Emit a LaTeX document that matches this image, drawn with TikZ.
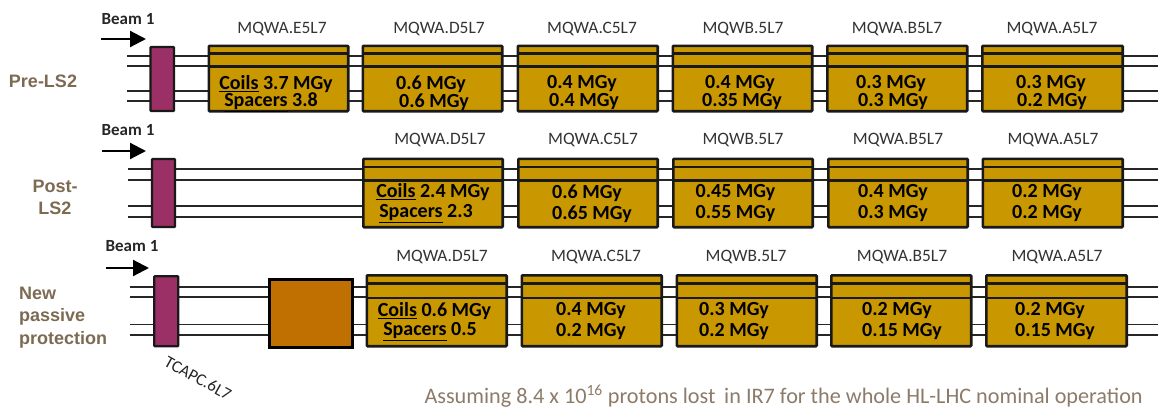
\documentclass[tikz,border=0pt]{standalone}
\usepackage{fontspec}
\setmainfont{Carlito}
\newfontfamily\arialfont{Liberation Sans}
\usetikzlibrary{calc,arrows.meta}
\definecolor{magold}{HTML}{C99700}
\definecolor{tcapc}{HTML}{9B3066}
\definecolor{passive}{HTML}{BF7000}
\definecolor{rowlab}{HTML}{7D6A53}
\definecolor{notec}{HTML}{8C7B68}
\definecolor{maglab}{HTML}{333333}
\tikzset{
  x=1pt,y=-1pt,
  beamline/.style={draw=black!85,line width=1.6pt},
  magbox/.style={draw=black!90,fill=magold,line width=2.6pt,rounded corners=0.8pt,inner sep=0pt,outer sep=0pt,anchor=north west},
  magrule/.style={draw=black!90,line width=2.6pt},
  collbox/.style={draw=black!90,fill=tcapc,line width=2.4pt,rounded corners=0.8pt,inner sep=0pt,outer sep=0pt,anchor=north west},
  passivebox/.style={draw=black,fill=passive,line width=3.2pt,inner sep=0pt,outer sep=0pt,anchor=north west},
  maglabel/.style={font=\fontsize{17.4}{19}\selectfont,text=maglab,inner sep=0pt},
  dose/.style={font=\bfseries\fontsize{20}{22}\selectfont,text=black,inner sep=0pt},
  rowlabel/.style={font=\arialfont\bfseries\fontsize{18}{22}\selectfont,text=rowlab,inner sep=0pt},
  beamlabel/.style={font=\bfseries\fontsize{17}{19}\selectfont,text=black!85,inner sep=0pt},
  beamarrow/.style={draw=black,line width=2.2pt,-{Triangle[length=16pt,width=16pt]}},
}
% name, left, right, top, bottom (outer extents of the box)
\newcommand{\magnetbox}[5]{%
  \node[magbox,minimum width=#3-#2-2.6,minimum height=#5-#4-2.6] (#1) at (#2+1.3,#4+1.3) {};
  \draw[magrule] ($(#1.north west)!0.118!(#1.south west)$) -- ($(#1.north east)!0.118!(#1.south east)$);
  \draw[magrule] ($(#1.north west)!0.32!(#1.south west)$) -- ($(#1.north east)!0.32!(#1.south east)$);
}
% row prefix, left end, right end, four y
\newcommand{\beamlines}[7]{%
  \foreach \yy/\nn in {#4/a,#5/b,#6/c,#7/d}{
    \coordinate (#1l\nn) at (#2,\yy);
    \coordinate (#1r\nn) at (#3,\yy);
    \draw[beamline] (#1l\nn) -- (#1r\nn);
  }
}
\begin{document}
\begin{tikzpicture}
\useasboundingbox (0,0) rectangle (1159,408);
% ---- row 1
\beamlines{p}{127}{1158}{56}{66}{91}{101}
\node[collbox,minimum width=23.5,minimum height=64] (c1) at (150.5,47) {};
\magnetbox{p1}{207.5}{349.5}{44.5}{112.5}
\magnetbox{p2}{361.5}{503.5}{44.5}{112.5}
\magnetbox{p3}{516.5}{659}{44.5}{112.5}
\magnetbox{p4}{671.5}{813.5}{44.5}{112.5}
\magnetbox{p5}{826}{968.5}{44.5}{112.5}
\magnetbox{p6}{981}{1124}{44.5}{112.5}
\node[rowlabel] (r1) at (43,81) {Pre-LS2};
\node[beamlabel] (b1) at (128,19) {Beam 1};
\coordinate (b1s) at (101,39); \coordinate (b1e) at (146,39);
\draw[beamarrow] (b1s) -- (b1e);
\node[maglabel] (m11) at (282,29) {MQWA.E5L7};
\node[maglabel] (m12) at (439,29) {MQWA.D5L7};
\node[maglabel] (m13) at (592,29) {MQWA.C5L7};
\node[maglabel] (m14) at (743,29) {MQWB.5L7};
\node[maglabel] (m15) at (897,29) {MQWA.B5L7};
\node[maglabel] (m16) at (1052,29) {MQWA.A5L7};
\node[dose] (d11a) at (276,84) {\underline{Coils} 3.7 MGy};
\node[dose] (d11b) at (271,102) {\underline{Spacers} 3.8};
\node[dose] (d12a) at (431,84) {0.6 MGy};
\node[dose] (d12b) at (434,102) {0.6 MGy};
\node[dose] (d13a) at (582,84) {0.4 MGy};
\node[dose] (d13b) at (584,102) {0.4 MGy};
\node[dose] (d14a) at (740,84) {0.4 MGy};
\node[dose] (d14b) at (742,102) {0.35 MGy};
\node[dose] (d15a) at (891,84) {0.3 MGy};
\node[dose] (d15b) at (893,102) {0.3 MGy};
\node[dose] (d16a) at (1051,84) {0.3 MGy};
\node[dose] (d16b) at (1052,102) {0.2 MGy};
% ---- row 2
\beamlines{q}{128}{1158}{169}{180}{206}{217}
\node[collbox,minimum width=23,minimum height=68] (c2) at (152,159) {};
\magnetbox{q2}{362}{504}{157.5}{228.5}
\magnetbox{q3}{517}{659}{157.5}{228.5}
\magnetbox{q4}{672}{814}{157.5}{228.5}
\magnetbox{q5}{827}{969}{157.5}{228.5}
\magnetbox{q6}{981.5}{1124}{157.5}{228.5}
\node[rowlabel,align=center] (r2) at (55,197) {Post-\\LS2};
\node[beamlabel] (b2) at (128,130) {Beam 1};
\coordinate (b2s) at (102,151); \coordinate (b2e) at (146,151);
\draw[beamarrow] (b2s) -- (b2e);
\node[maglabel] (m22) at (440,140) {MQWA.D5L7};
\node[maglabel] (m23) at (593,140) {MQWA.C5L7};
\node[maglabel] (m24) at (743,140) {MQWB.5L7};
\node[maglabel] (m25) at (898,140) {MQWA.B5L7};
\node[maglabel] (m26) at (1053,140) {MQWA.A5L7};
\node[dose] (d22a) at (433,192) {\underline{Coils} 2.4 MGy};
\node[dose] (d22b) at (426,214) {\underline{Spacers} 2.3};
\node[dose] (d23a) at (587,193) {0.6 MGy};
\node[dose] (d23b) at (592,214) {0.65 MGy};
\node[dose] (d24a) at (735.5,193) {0.45 MGy};
\node[dose] (d24b) at (735.5,214) {0.55 MGy};
\node[dose] (d25a) at (893,193) {0.4 MGy};
\node[dose] (d25b) at (893,214) {0.3 MGy};
\node[dose] (d26a) at (1047,193) {0.2 MGy};
\node[dose] (d26b) at (1047,214) {0.2 MGy};
% ---- row 3
\beamlines{s}{130}{1158}{287}{297}{324.5}{335}
\node[collbox,minimum width=24,minimum height=70] (c3) at (154.2,276.2) {};
\node[passivebox,minimum width=82.8,minimum height=67.8] (pp) at (269.6,279.6) {};
\magnetbox{s2}{365.5}{508}{274}{347.5}
\magnetbox{s3}{520.5}{663}{274}{347.5}
\magnetbox{s4}{675.5}{818}{274}{347.5}
\magnetbox{s5}{830}{972.5}{274}{347.5}
\magnetbox{s6}{985}{1128}{274}{347.5}
\node[rowlabel,align=left,anchor=west,font=\arialfont\bfseries\fontsize{18}{22.5}\selectfont] (r3) at (19,317.5) {New\\passive\\protection};
\node[beamlabel] (b3) at (132,246) {Beam 1};
\coordinate (b3s) at (106,268); \coordinate (b3e) at (149,268);
\draw[beamarrow] (b3s) -- (b3e);
\node[maglabel] (m32) at (442,257) {MQWA.D5L7};
\node[maglabel] (m33) at (596,257) {MQWA.C5L7};
\node[maglabel] (m34) at (746,257) {MQWB.5L7};
\node[maglabel] (m35) at (902,257) {MQWA.B5L7};
\node[maglabel] (m36) at (1057,257) {MQWA.A5L7};
\node[dose] (d32a) at (434.5,311) {\underline{Coils} 0.6 MGy};
\node[dose] (d32b) at (430,332) {\underline{Spacers} 0.5};
\node[dose] (d33a) at (591,311) {0.4 MGy};
\node[dose] (d33b) at (591,332) {0.2 MGy};
\node[dose] (d34a) at (734,311) {0.3 MGy};
\node[dose] (d34b) at (734,332) {0.2 MGy};
\node[dose] (d35a) at (897,311) {0.2 MGy};
\node[dose] (d35b) at (902,332) {0.15 MGy};
\node[dose] (d36a) at (1050,311) {0.2 MGy};
\node[dose] (d36b) at (1055,332) {0.15 MGy};
\node[font=\fontsize{17}{19}\selectfont,text=black!85,rotate=-29,inner sep=0pt] (tc) at (198,378) {TCAPC.6L7};
\node[font=\fontsize{22.2}{24}\selectfont,text=notec,inner sep=0pt,anchor=east] (note) at (1143,396) {Assuming 8.4 x 10\textsuperscript{16} protons lost\, in IR7 for the whole HL-LHC nominal operation};
\end{tikzpicture}
\end{document}
